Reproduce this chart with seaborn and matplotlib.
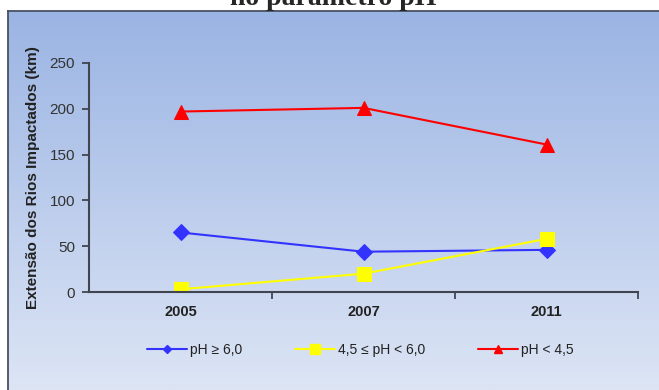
import numpy as np
import pandas as pd
import matplotlib
matplotlib.use("Agg")
import matplotlib.pyplot as plt
from matplotlib.colors import LinearSegmentedColormap
from matplotlib.ticker import FixedLocator
import seaborn as sns

years = ["2005", "2007", "2011"]
ph_ge_6 = [65, 44, 46]
ph_45_6 = [3, 20, 58]
ph_lt_45 = [197, 201, 161]
series_names = ["pH \u2265 6,0", "4,5 \u2264 pH < 6,0", "pH < 4,5"]
y_ticks = [0, 50, 100, 150, 200, 250]

sns.set_theme(style="white")
plt.rcParams["font.family"] = ["Liberation Sans", "DejaVu Sans"]

rows = []
for name, vals in zip(series_names, [ph_ge_6, ph_45_6, ph_lt_45]):
    for i, (yr, v) in enumerate(zip(years, vals)):
        rows.append({"pos": i, "ano": yr, "serie": name, "km": v})
df = pd.DataFrame(rows)

fig = plt.figure(figsize=(6.59, 3.90), dpi=100)
W, H = 659, 390

# gradient panel behind the chart
bg = fig.add_axes([8 / W, 0, 1 - 8 / W, (H - 10.5) / H], zorder=0)
cmap = LinearSegmentedColormap.from_list("bg", ["#9AB4E3", "#DDE5F5"])
bg.imshow(np.linspace(0, 1, 256).reshape(-1, 1), aspect="auto", cmap=cmap,
          extent=[0, 1, 0, 1], origin="upper")
bg.set_xticks([])
bg.set_yticks([])
for side in ["right", "bottom"]:
    bg.spines[side].set_visible(False)
for side in ["left", "top"]:
    bg.spines[side].set_color("#4a5060")
    bg.spines[side].set_linewidth(1.3)

ax = fig.add_axes([89 / W, 1 - 292 / H, 549 / W, 229 / H], zorder=1)
ax.patch.set_alpha(0)

palette = {series_names[0]: "#3333FF", series_names[1]: "#FFFF00", series_names[2]: "#FF0000"}
markers = {series_names[0]: "D", series_names[1]: "s", series_names[2]: "^"}
sizes = {series_names[0]: 8, series_names[1]: 10.5, series_names[2]: 10}
legend_sizes = {series_names[0]: 4.5, series_names[1]: 7, series_names[2]: 6}

for name in series_names:
    sub = df[df["serie"] == name]
    sns.lineplot(data=sub, x="pos", y="km", ax=ax, color=palette[name],
                 marker=markers[name], markersize=sizes[name],
                 markeredgecolor=palette[name], linewidth=1.5, label=name,
                 legend=False)

ax.set_xlim(-0.5, 2.5)
ax.set_ylim(0, 250)
ax.set_yticks(y_ticks)
ax.set_yticklabels([str(t) for t in y_ticks], fontsize=11, color="#333333")
ax.set_xticks(range(len(years)))
ax.set_xticklabels(years, fontsize=10.5, fontweight="bold", color="#222222")
ax.xaxis.set_minor_locator(FixedLocator([0.5, 1.5, 2.5]))
ax.tick_params(axis="x", which="major", length=0, pad=9)
ax.tick_params(axis="x", which="minor", length=5, width=1.3, color="#404550",
               direction="out", bottom=True)
ax.tick_params(axis="y", length=5, width=1.3, color="#404550", direction="out",
               left=True, pad=5)
ax.set_xlabel("")
ax.set_ylabel("Extens\u00e3o dos Rios Impactados (km)", fontsize=11,
              fontweight="bold", color="#222222", labelpad=7)
for side in ["top", "right"]:
    ax.spines[side].set_visible(False)
for side in ["left", "bottom"]:
    ax.spines[side].set_color("#404550")
    ax.spines[side].set_linewidth(1.5)

handles = [plt.Line2D([], [], color=palette[n], marker=markers[n],
                      markersize=legend_sizes[n], linewidth=1.5,
                      markeredgecolor=palette[n]) for n in series_names]
fig.legend(handles, series_names, loc="center", bbox_to_anchor=(360 / W, 1 - 350 / H),
           ncol=3, frameon=False, fontsize=10, handlelength=2.9,
           handletextpad=0.2, columnspacing=3.8, labelcolor="#222222")

fig.text(333 / W, 1 - 5 / H, "no par\u00e2metro pH", ha="center", va="baseline",
         fontsize=20, fontweight="bold", family=["Liberation Serif", "DejaVu Serif"])

fig.savefig("out.png", dpi=100)
